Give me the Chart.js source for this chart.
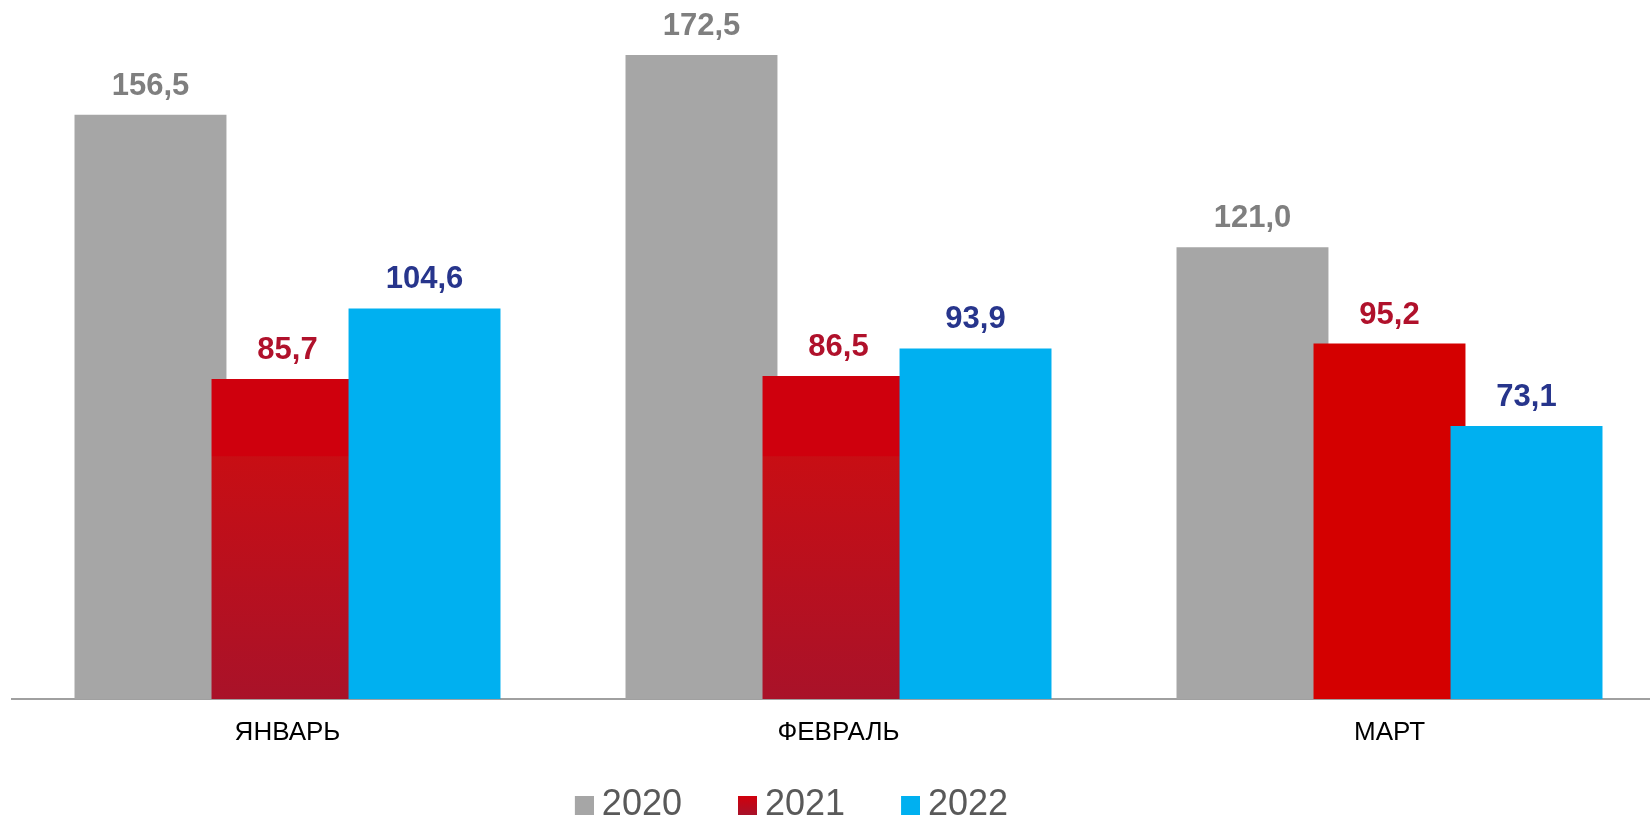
<!DOCTYPE html>
<html>
<head>
<meta charset="utf-8">
<script src="https://cdn.jsdelivr.net/npm/chart.js@4/dist/chart.umd.min.js"></script>
<style>
  html, body { margin: 0; padding: 0; background: #ffffff; overflow: hidden; }
  #wrap { width: 1650px; height: 821px; overflow: hidden; }
  canvas { display: block; }
</style>
</head>
<body>
<div id="wrap"><canvas id="chart" width="1665" height="821"></canvas></div>
<script>
var months = ['ЯНВАРЬ', 'ФЕВРАЛЬ', 'МАРТ'];
var years = ['2020', '2021', '2022'];
var values2020 = [156.5, 172.5, 121.0];
var values2021 = [85.7, 86.5, 95.2];
var values2022 = [104.6, 93.9, 73.1];

var FONT = '"Liberation Sans", Arial, sans-serif';
var labelColors = ['#7f7f7f', '#b0112b', '#27358c'];

function fmt(v) {
  return v.toFixed(1).replace('.', ',');
}

// red bars fade darker toward the axis, the last one is flat
function redFill(ctx) {
  if (ctx.dataIndex === 2) return '#d40000';
  var area = ctx.chart.chartArea;
  if (!area) return '#cf000d';
  var g = ctx.chart.ctx.createLinearGradient(0, area.top, 0, area.bottom);
  var f = (456 - area.top) / (area.bottom - area.top);
  g.addColorStop(0, '#cf000d');
  g.addColorStop(f, '#cf000d');
  g.addColorStop(f + 0.001, '#c80e14');
  g.addColorStop(1, '#a91229');
  return g;
}

// legend squares: 19px box at the right of a 21px canvas so the text sits close
function swatch(fill) {
  var cv = document.createElement('canvas');
  cv.width = 21; cv.height = 19;
  var c = cv.getContext('2d');
  if (fill === 'red') {
    var g = c.createLinearGradient(0, 0, 0, 19);
    g.addColorStop(0, '#d2000c');
    g.addColorStop(1, '#a8122a');
    c.fillStyle = g;
  } else {
    c.fillStyle = fill;
  }
  c.fillRect(2, 0, 19, 19);
  return cv;
}
var swatches = [swatch('#a6a6a6'), swatch('red'), swatch('#00b0f0')];

// later series sit on top of earlier ones where bars overlap
var barOrder = {
  id: 'barOrder',
  beforeDatasetsDraw: function(chart) {
    for (var i = 0; i < chart.data.datasets.length; i++) {
      chart.getDatasetMeta(i).controller.draw();
    }
    return false;
  }
};

var valueLabels = {
  id: 'valueLabels',
  afterDraw: function(chart) {
    var c = chart.ctx;
    c.save();
    c.font = 'bold 31px ' + FONT;
    c.textAlign = 'center';
    c.textBaseline = 'alphabetic';
    chart.data.datasets.forEach(function(ds, i) {
      var meta = chart.getDatasetMeta(i);
      c.fillStyle = labelColors[i];
      meta.data.forEach(function(bar, j) {
        c.fillText(fmt(ds.data[j]), bar.x, bar.y - 20);
      });
    });
    c.restore();
  }
};

var layoutTweak = {
  id: 'layoutTweak',
  afterLayout: function(chart) {
    // x axis is fitted short, let its labels spill below without clipping
    chart.scales.x.bottom = chart.scales.x.top + 60;
    var lg = chart.legend;
    lg.left -= 43; lg.right -= 43;
    lg.top += 12; lg.bottom += 12;
  },
  beforeDraw: function(chart) {
    var lg = chart.legend;
    if (!lg || !lg.legendItems) return;
    lg.legendItems.forEach(function(item, i) {
      item.pointStyle = swatches[i];
    });
  }
};

new Chart(document.getElementById('chart'), {
  type: 'bar',
  data: {
    labels: months,
    datasets: [
      { label: years[0], data: values2020, backgroundColor: '#a6a6a6' },
      { label: years[1], data: values2021, backgroundColor: redFill },
      { label: years[2], data: values2022, backgroundColor: '#00b0f0' }
    ]
  },
  options: {
    responsive: false,
    animation: false,
    categoryPercentage: 0.746,
    barPercentage: 1.109,
    layout: { padding: { left: 12, top: 27, right: 0, bottom: 0 } },
    plugins: {
      legend: {
        position: 'bottom',
        labels: {
          color: '#595959',
          font: { family: FONT, size: 36 },
          usePointStyle: true,
          pointStyleWidth: 1,
          boxHeight: 19,
          padding: 64
        }
      },
      tooltip: { enabled: false }
    },
    scales: {
      x: {
        grid: { display: false, drawTicks: false },
        border: { display: true, color: '#a0a0a0', width: 2 },
        ticks: { color: '#000000', font: { family: FONT, size: 26 }, padding: 18 },
        afterFit: function(scale) { scale.height = 12; }
      },
      y: {
        display: false,
        min: 0,
        max: 180
      }
    }
  },
  plugins: [barOrder, valueLabels, layoutTweak]
});
</script>
</body>
</html>
